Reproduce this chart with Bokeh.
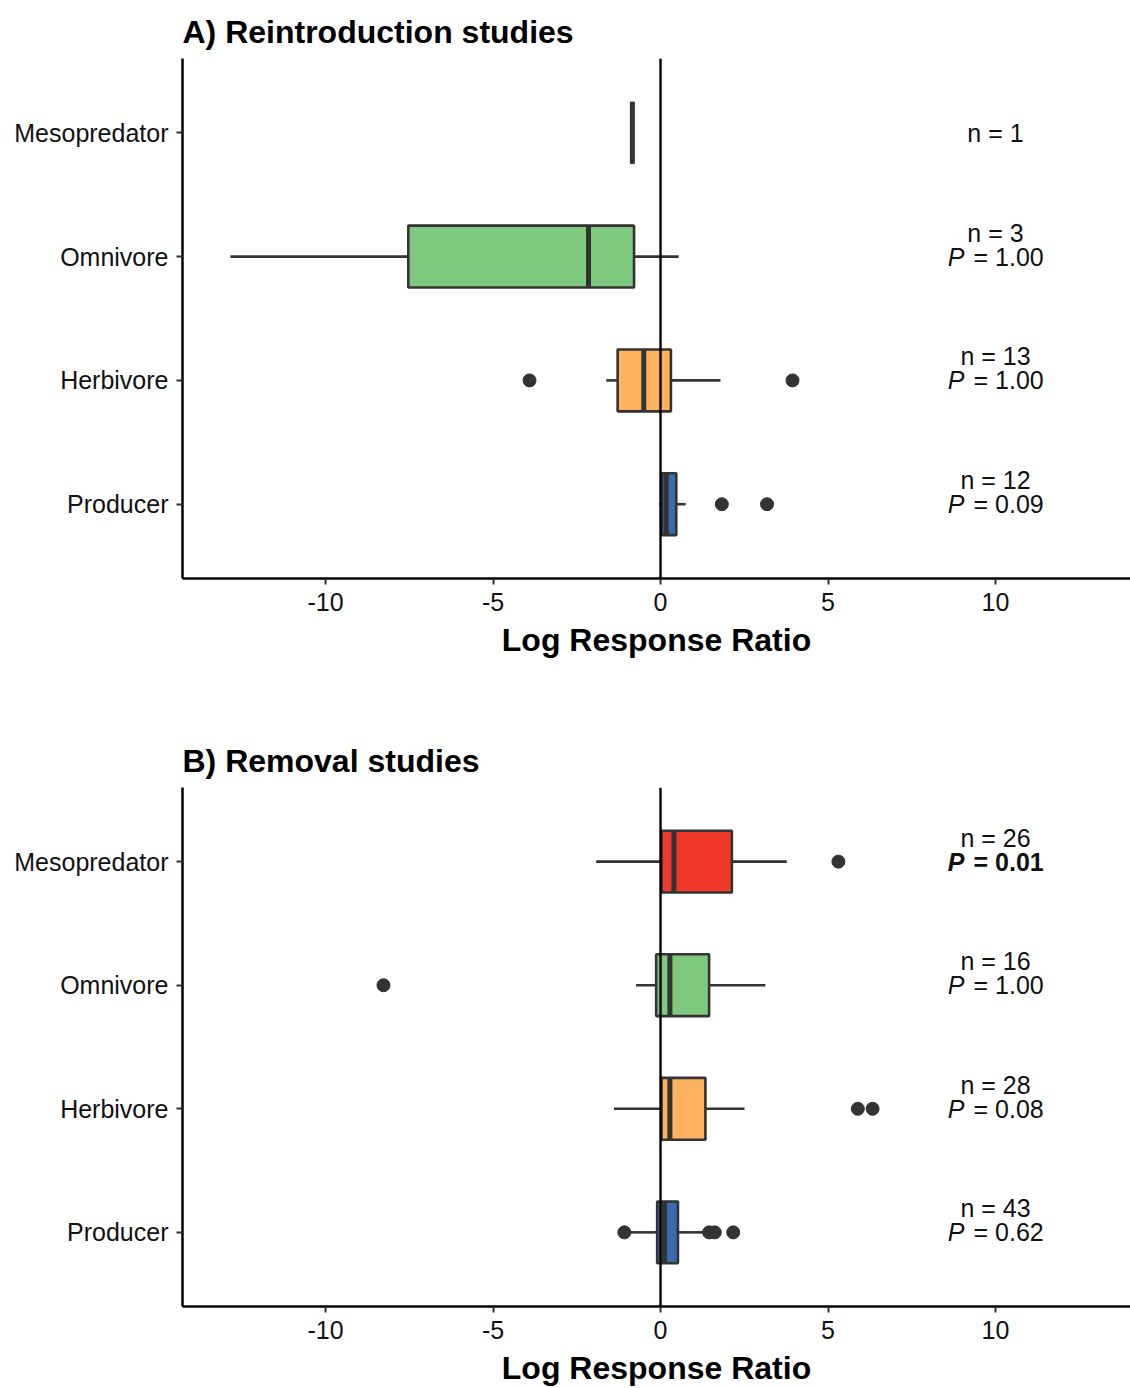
from bokeh.plotting import figure
from bokeh.models import FactorRange, Range1d, Span, ColumnDataSource
from bokeh.layouts import column
from bokeh.transform import dodge
from bokeh.core.properties import value
from bokeh.embed import file_html
from bokeh.resources import INLINE

FONT = "Liberation Sans"

# ---------------- data ----------------
groups = ["Mesopredator", "Omnivore", "Herbivore", "Producer"]
group_colors = ["#EF3A2B", "#7FC97F", "#FFB15E", "#3A6BB1"]
x_ticks = [-10, -5, 0, 5, 10]
x_tick_labels = ["-10", "-5", "0", "5", "10"]

# A) Reintroduction studies
a_wlo = [-0.84, -12.84, -1.62, -0.04]
a_q1 = [-0.84, -7.53, -1.28, 0.04]
a_med = [-0.84, -2.15, -0.50, 0.17]
a_q3 = [-0.84, -0.79, 0.31, 0.47]
a_whi = [-0.84, 0.54, 1.79, 0.75]
a_out_group = ["Herbivore", "Herbivore", "Producer", "Producer"]
a_out_val = [-3.91, 3.94, 1.83, 3.18]
a_n = [1, 3, 13, 12]
a_p = [None, "1.00", "1.00", "0.09"]
a_sig = [False, False, False, False]

# B) Removal studies
b_wlo = [-1.92, -0.73, -1.39, -1.00]
b_q1 = [0.03, -0.13, 0.03, -0.10]
b_med = [0.40, 0.28, 0.28, 0.12]
b_q3 = [2.13, 1.45, 1.34, 0.52]
b_whi = [3.77, 3.13, 2.51, 1.38]
b_out_group = ["Mesopredator", "Omnivore", "Herbivore", "Herbivore",
               "Producer", "Producer", "Producer", "Producer"]
b_out_val = [5.31, -8.27, 5.89, 6.33, -1.08, 1.45, 1.62, 2.17]
b_n = [26, 16, 28, 43]
b_p = ["0.01", "1.00", "0.08", "0.62"]
b_sig = [True, False, False, False]

label_x = 10


def make_panel(title, wlo, q1, med, q3, whi, out_g, out_v, ns, ps, sig,
               height, border_top, border_bottom):
    p = figure(width=1130, height=height,
               y_range=FactorRange(factors=groups[::-1], range_padding=0.1,
                                   range_padding_units="absolute"),
               x_range=Range1d(-14.27, 14.03),
               output_backend="svg", toolbar_location=None,
               min_border_left=182, min_border_right=0,
               min_border_top=border_top, min_border_bottom=border_bottom)
    p.outline_line_color = None
    p.xgrid.visible = False
    p.ygrid.visible = False
    p.background_fill_color = "white"
    p.border_fill_color = "white"

    p.title.text = title
    p.title.align = "left"
    p.title.text_font = FONT
    p.title.text_font_size = "32px"
    p.title.text_font_style = "bold"
    p.title.text_color = "black"
    p.title.standoff = 18

    src = ColumnDataSource(dict(g=groups, wlo=wlo, q1=q1, med=med, q3=q3,
                                whi=whi, c=group_colors))
    # whiskers
    p.segment(x0="wlo", y0="g", x1="q1", y1="g", source=src,
              line_color="#333333", line_width=2.6)
    p.segment(x0="q3", y0="g", x1="whi", y1="g", source=src,
              line_color="#333333", line_width=2.6)
    # boxes
    p.hbar(y="g", left="q1", right="q3", height=0.5, source=src,
           fill_color="c", line_color="#333333", line_width=2.6)
    # medians
    p.segment(x0="med", y0=dodge("g", -0.25, range=p.y_range),
              x1="med", y1=dodge("g", 0.25, range=p.y_range), source=src,
              line_color="#333333", line_width=5)
    # outliers
    p.scatter(x=out_v, y=out_g, size=13, marker="circle",
              fill_color="#333333", line_color="#333333")

    # zero line
    p.add_layout(Span(location=0, dimension="height", line_color="black",
                      line_width=2.4))

    # annotations
    n_txt = ["n = %d" % n for n in ns]
    n_off = [-24 if pv is not None else 0 for pv in ps]
    p.text(x=[label_x] * len(groups), y=groups, text=n_txt, y_offset=n_off,
           text_align="center", text_baseline="middle",
           text_font=value(FONT), text_font_size="25px", text_color="#111111")
    pg = [g for g, pv in zip(groups, ps) if pv is not None]
    pv_ = [pv for pv in ps if pv is not None]
    ps_ = [s for s, pv in zip(sig, ps) if pv is not None]
    for bold in (False, True):
        gg = [g for g, s in zip(pg, ps_) if s == bold]
        vv = [v for v, s in zip(pv_, ps_) if s == bold]
        if not gg:
            continue
        p.text(x=[label_x] * len(gg), y=gg, text=["P"] * len(gg), x_offset=-31,
               text_align="right", text_baseline="middle",
               text_font=value(FONT), text_font_size="25px",
               text_font_style="bold italic" if bold else "italic",
               text_color="#111111")
        p.text(x=[label_x] * len(gg), y=gg, text=["= " + v for v in vv],
               x_offset=-22, text_align="left", text_baseline="middle",
               text_font=value(FONT), text_font_size="25px",
               text_font_style="bold" if bold else "normal",
               text_color="#111111")

    # axes
    for ax in (p.xaxis[0], p.yaxis[0]):
        ax.axis_line_color = "black"
        ax.axis_line_width = 2.5
        ax.major_tick_line_color = "#333333"
        ax.major_tick_line_width = 2
        ax.major_tick_out = 6
        ax.major_tick_in = 0
        ax.minor_tick_line_color = None
        ax.major_label_text_font = FONT
        ax.major_label_text_font_size = "25px"
        ax.major_label_text_color = "#111111"
    p.xaxis.ticker = x_ticks
    p.xaxis.major_label_overrides = dict(zip(x_ticks, x_tick_labels))
    p.xaxis.major_label_standoff = 8
    p.yaxis.major_label_standoff = 8
    p.xaxis.axis_label = "Log Response Ratio"
    p.xaxis.axis_label_text_font = FONT
    p.xaxis.axis_label_text_font_size = "32px"
    p.xaxis.axis_label_text_font_style = "bold"
    p.xaxis.axis_label_text_color = "black"
    p.xaxis.axis_label_standoff = 8
    return p


pa = make_panel("A) Reintroduction studies", a_wlo, a_q1, a_med, a_q3, a_whi,
                a_out_group, a_out_val, a_n, a_p, a_sig, 729, 58, 151)
pb = make_panel("B) Removal studies", b_wlo, b_q1, b_med, b_q3, b_whi,
                b_out_group, b_out_val, b_n, b_p, b_sig, 659, 58, 82)

layout = column(pa, pb, spacing=0)
open("out.html", "w").write(file_html(layout, INLINE))
